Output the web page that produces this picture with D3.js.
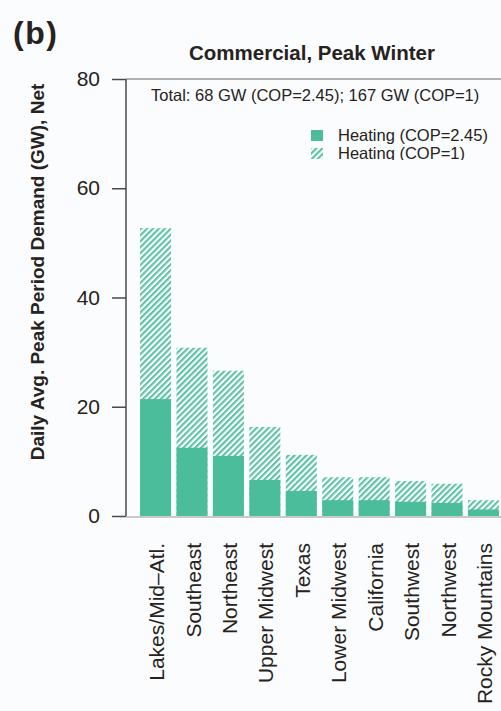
<!DOCTYPE html>
<html>
<head>
<meta charset="utf-8">
<script src="https://cdn.jsdelivr.net/npm/d3@7"></script>
<style>
  html, body { margin: 0; padding: 0; background: #fbfcfd; }
  svg { display: block; font-family: "Liberation Sans", Arial, Helvetica, sans-serif; }
</style>
</head>
<body>
<svg id="chart" width="501" height="711"></svg>
<script>
// Regions, ordered by demand
const regions = ["Lakes/Mid\u2013Atl.", "Southeast", "Northeast", "Upper Midwest", "Texas",
                 "Lower Midwest", "California", "Southwest", "Northwest", "Rocky Mountains"];
// Peak winter commercial heating demand (GW) with heat pumps, COP = 2.45
const heatingCOP245 = [21.4, 12.5, 11.0, 6.6, 4.6, 2.9, 2.9, 2.6, 2.4, 1.2];
// Same demand with resistance heating, COP = 1
const heatingCOP1 = [52.7, 30.8, 26.6, 16.3, 11.2, 7.1, 7.1, 6.4, 5.9, 2.9];
const yTicks = [0, 20, 40, 60, 80];

const green = "#4cbd9b";
const ink = "#262220";
const svg = d3.select("#chart");

const plot = { left: 126, top: 79, bottom: 516 };
const x = d3.scaleBand().domain(regions).range([136.4, 502.6]).paddingInner(0.149).paddingOuter(0.1);
const y = d3.scaleLinear().domain([0, 80]).range([plot.bottom, plot.top]);

// diagonal hatch for the COP=1 part
const defs = svg.append("defs");
const pat = defs.append("pattern")
  .attr("id", "hatch").attr("patternUnits", "userSpaceOnUse")
  .attr("width", 4.2).attr("height", 4.2)
  .attr("patternTransform", "rotate(45)");
pat.append("rect").attr("width", 4.2).attr("height", 4.2).attr("fill", "#fbfcfd");
pat.append("rect").attr("x", 0).attr("width", 2.1).attr("height", 4.2).attr("fill", green).attr("opacity", 0.9);

// legend rows are clipped just below the second line
defs.append("clipPath").attr("id", "legendClip")
  .append("rect").attr("x", 300).attr("y", 115).attr("width", 201).attr("height", 45);

// frame lines
svg.append("line").attr("x1", plot.left).attr("x2", 501)
  .attr("y1", y(80)).attr("y2", y(80)).attr("stroke", "#9a9a9a").attr("stroke-width", 1.5);
svg.append("line").attr("x1", plot.left).attr("x2", 501)
  .attr("y1", y(0) + 1).attr("y2", y(0) + 1).attr("stroke", "#b8b8b8").attr("stroke-width", 1.5);

// bars: COP=1 hatched, COP=2.45 solid on top
svg.append("g").selectAll("rect").data(regions).join("rect")
  .attr("x", d => x(d)).attr("width", x.bandwidth())
  .attr("y", (d, i) => y(heatingCOP1[i]))
  .attr("height", (d, i) => y(0) - y(heatingCOP1[i]))
  .attr("fill", "url(#hatch)");
svg.append("g").selectAll("rect").data(regions).join("rect")
  .attr("x", d => x(d)).attr("width", x.bandwidth())
  .attr("y", (d, i) => y(heatingCOP245[i]))
  .attr("height", (d, i) => y(0) - y(heatingCOP245[i]))
  .attr("fill", green);

// y axis
const yAxis = svg.append("g").attr("transform", `translate(${plot.left},0)`)
  .call(d3.axisLeft(y).tickValues(yTicks).tickSize(14).tickPadding(12));
yAxis.select(".domain").attr("stroke", "#4a4a4a").attr("stroke-width", 1.5)
  .attr("d", `M0,${y(80)}V${y(0)}`);
yAxis.selectAll(".tick line").attr("stroke", "#4a4a4a").attr("stroke-width", 1.5);
yAxis.selectAll(".tick text").attr("font-size", 21).attr("fill", ink)
  .attr("font-family", "Liberation Sans, Arial, sans-serif");

// x labels
svg.append("g").selectAll("text").data(regions).join("text")
  .attr("transform", d => `translate(${x(d) + x.bandwidth() / 2 + 1},543) rotate(-90)`)
  .attr("text-anchor", "end").attr("dy", "0.36em")
  .attr("font-size", 21).attr("fill", ink).text(d => d);

// titles
svg.append("text").attr("x", 13).attr("y", 44).attr("font-size", 32).attr("font-weight", "bold")
  .attr("letter-spacing", 1.5).attr("fill", ink).text("(b)");
svg.append("text").attr("x", 312).attr("y", 60).attr("text-anchor", "middle")
  .attr("font-size", 20.5).attr("font-weight", "bold").attr("fill", ink)
  .text("Commercial, Peak Winter");
svg.append("text").attr("transform", "translate(44,272) rotate(-90)")
  .attr("text-anchor", "middle").attr("font-size", 19).attr("font-weight", "bold")
  .attr("fill", ink).text("Daily Avg. Peak Period Demand (GW), Net");

svg.append("text").attr("x", 151).attr("y", 101).attr("font-size", 16.5).attr("fill", ink)
  .text("Total: 68 GW (COP=2.45); 167 GW (COP=1)");

// legend
const legend = svg.append("g").attr("clip-path", "url(#legendClip)");
legend.append("rect").attr("x", 311).attr("y", 130).attr("width", 12).attr("height", 11).attr("fill", green);
legend.append("rect").attr("x", 311).attr("y", 148).attr("width", 12).attr("height", 11).attr("fill", "url(#hatch)");
legend.append("text").attr("x", 338).attr("y", 141).attr("font-size", 16.5).attr("fill", ink)
  .text("Heating (COP=2.45)");
legend.append("text").attr("x", 338).attr("y", 159).attr("font-size", 16.5).attr("fill", ink)
  .text("Heating (COP=1)");
</script>
</body>
</html>
